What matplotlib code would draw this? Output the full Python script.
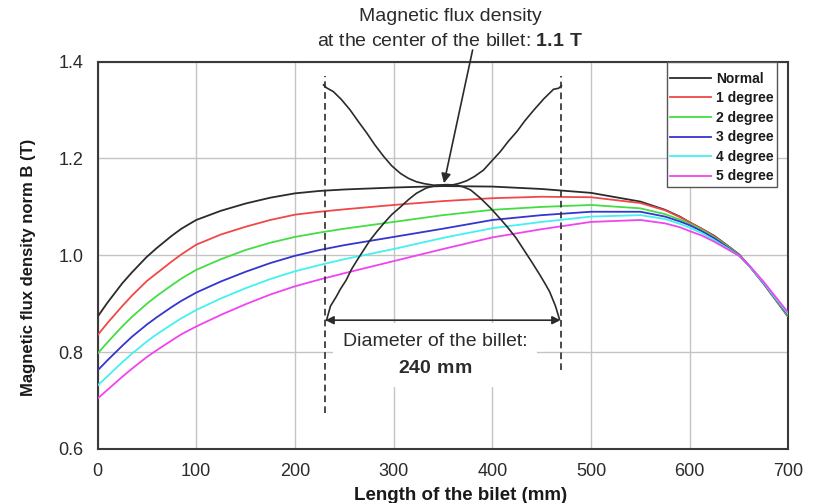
import matplotlib.pyplot as plt
import matplotlib as mpl

mpl.rcParams['font.family'] = ['Liberation Sans', 'DejaVu Sans']
mpl.rcParams['mathtext.fontset'] = 'custom'
mpl.rcParams['mathtext.rm'] = 'Liberation Sans'
mpl.rcParams['mathtext.bf'] = 'Liberation Sans:bold'

# position along the billet (mm)
dist = [0, 10, 25, 35, 50, 60, 75, 85, 100, 125, 150, 175, 200, 225, 250, 300, 350, 400,
        450, 500, 550, 575, 590, 600, 612, 625, 637, 650, 662, 675, 687, 700]

normal = [0.873, 0.902, 0.942, 0.965, 0.997, 1.015, 1.040, 1.055, 1.073, 1.092, 1.107, 1.119,
          1.128, 1.133, 1.136, 1.140, 1.143, 1.142, 1.137, 1.129, 1.111, 1.094, 1.080, 1.068,
          1.055, 1.040, 1.022, 1.002, 0.974, 0.941, 0.908, 0.872]
deg1 = [0.835, 0.860, 0.895, 0.917, 0.947, 0.963, 0.987, 1.002, 1.022, 1.043, 1.059, 1.073,
        1.084, 1.090, 1.095, 1.104, 1.112, 1.118, 1.121, 1.120, 1.108, 1.093, 1.079, 1.068,
        1.055, 1.039, 1.021, 1.001, 0.974, 0.941, 0.908, 0.873]
deg2 = [0.797, 0.820, 0.853, 0.873, 0.900, 0.916, 0.938, 0.952, 0.970, 0.992, 1.011, 1.026,
        1.038, 1.047, 1.055, 1.069, 1.083, 1.094, 1.100, 1.104, 1.097, 1.085, 1.074, 1.065,
        1.053, 1.037, 1.020, 1.001, 0.974, 0.942, 0.909, 0.874]
deg3 = [0.762, 0.783, 0.813, 0.832, 0.857, 0.872, 0.893, 0.906, 0.923, 0.946, 0.966, 0.984,
        0.999, 1.011, 1.021, 1.038, 1.055, 1.073, 1.083, 1.090, 1.090, 1.080, 1.070, 1.062,
        1.050, 1.035, 1.018, 1.000, 0.974, 0.942, 0.910, 0.876]
deg4 = [0.731, 0.750, 0.779, 0.797, 0.822, 0.837, 0.857, 0.870, 0.887, 0.911, 0.932, 0.951,
        0.967, 0.980, 0.992, 1.013, 1.036, 1.056, 1.069, 1.080, 1.083, 1.075, 1.065, 1.057,
        1.046, 1.031, 1.016, 0.999, 0.974, 0.943, 0.911, 0.878]
deg5 = [0.704, 0.722, 0.749, 0.766, 0.790, 0.804, 0.824, 0.837, 0.853, 0.877, 0.899, 0.919,
        0.936, 0.950, 0.963, 0.988, 1.013, 1.037, 1.054, 1.069, 1.073, 1.066, 1.058, 1.050,
        1.041, 1.028, 1.014, 0.999, 0.975, 0.945, 0.914, 0.881]

series = [
    ('Normal', normal, '#2b2b2b'),
    ('1 degree', deg1, '#f04848'),
    ('2 degree', deg2, '#44dd44'),
    ('3 degree', deg3, '#3535d0'),
    ('4 degree', deg4, '#44f0f0'),
    ('5 degree', deg5, '#f044f0'),
]

# sketch of the billet cross-section (flux across the diameter)
upper_x = [229, 232, 239, 247, 256, 264, 273, 281, 290, 298, 307, 315, 323, 331, 340, 351,
           361, 367, 374, 382, 391, 399, 408, 416, 425, 433, 442, 452, 462, 467, 470]
upper_y = [1.352, 1.346, 1.338, 1.322, 1.300, 1.277, 1.252, 1.228, 1.204, 1.185, 1.169, 1.159,
           1.152, 1.148, 1.145, 1.144, 1.146, 1.149, 1.154, 1.163, 1.176, 1.194, 1.214, 1.235,
           1.256, 1.278, 1.300, 1.323, 1.343, 1.345, 1.350]
lower_x = [232, 236, 242, 246, 252, 257, 263, 270, 276, 283, 290, 298, 307, 315, 323, 333,
           344, 354, 364, 371, 378, 388, 398, 406, 415, 424, 432, 440, 448, 453, 458, 464, 468]
lower_y = [0.866, 0.895, 0.915, 0.930, 0.949, 0.970, 0.990, 1.012, 1.031, 1.049, 1.066, 1.084,
           1.100, 1.115, 1.128, 1.139, 1.145, 1.146, 1.145, 1.141, 1.135, 1.118, 1.098, 1.080,
           1.059, 1.036, 1.011, 0.986, 0.960, 0.943, 0.925, 0.895, 0.868]

billet_left, billet_right = 230, 470

fig = plt.figure(figsize=(8.18, 5.03), dpi=100)
ax = fig.add_axes([0.1192, 0.1074, 0.8447, 0.770])

for name, vals, col in series:
    ax.plot(dist, vals, color=col, lw=1.3, label=name, zorder=4,
            solid_joinstyle='round')

ax.plot(upper_x, upper_y, color='#2b2b2b', lw=1.2, zorder=4, solid_joinstyle='round')
ax.plot(lower_x, lower_y, color='#2b2b2b', lw=1.2, zorder=4, solid_joinstyle='round')

ax.plot([billet_left, billet_left], [0.674, 1.37], color='#2b2b2b', lw=1.2,
        linestyle=(0, (4, 2.5)), zorder=5)
ax.plot([billet_right, billet_right], [0.763, 1.37], color='#2b2b2b', lw=1.2,
        linestyle=(0, (4, 2.5)), zorder=5)

# diameter arrow
ax.annotate('', xy=(billet_left + 1, 0.866), xytext=(billet_right - 1, 0.866),
            arrowprops=dict(arrowstyle='<|-|>', color='#2b2b2b', lw=1.2,
                            mutation_scale=12, shrinkA=0, shrinkB=0), zorder=5)
ax.text(342, 0.794, 'Diameter of the billet:\n$\\mathbf{240\\ mm}$',
        ha='center', va='center', fontsize=14, color='#2b2b2b',
        linespacing=1.75, multialignment='center', zorder=3,
        bbox=dict(facecolor='white', edgecolor='none', pad=7))

# centre flux label and arrow
ax.annotate('', xy=(351, 1.149), xytext=(380, 1.424),
            arrowprops=dict(arrowstyle='-|>', color='#2b2b2b', lw=1.2,
                            mutation_scale=14, shrinkA=0, shrinkB=0),
            annotation_clip=False, zorder=5)
ax.text(357, 1.467, 'Magnetic flux density\nat the center of the billet: $\\mathbf{1.1\\ T}$',
        ha='center', va='center', fontsize=14, color='#2b2b2b',
        linespacing=1.65, clip_on=False)

ax.set_xlim(0, 700)
ax.set_ylim(0.6, 1.4)
ax.set_xticks(range(0, 701, 100))
ax.set_yticks([0.6, 0.8, 1.0, 1.2, 1.4])
ax.set_yticklabels(['0.6', '0.8', '1.0', '1.2', '1.4'])
ax.tick_params(length=0, labelsize=13, pad=10, colors='#2b2b2b')
ax.grid(True, color='#c4c4c4', lw=1)
ax.set_axisbelow(True)
for sp in ax.spines.values():
    sp.set_color('#3a3a3a')
    sp.set_linewidth(1.5)

ax.set_xlabel('Length of the bilet (mm)', fontsize=13.5, fontweight='bold', color='#1a1a1a')
ax.set_ylabel('Magnetic flux density norm B (T)', fontsize=12, fontweight='bold', color='#1a1a1a')
ax.xaxis.set_label_coords(0.525, -0.097)
ax.yaxis.set_label_coords(-0.089, 0.468)

leg = ax.legend(loc='upper right', bbox_to_anchor=(0.983, 1.0), borderaxespad=0,
                prop={'weight': 'bold', 'size': 10}, handlelength=2.9, handletextpad=0.35,
                labelspacing=0.4, borderpad=0.25, fancybox=False, framealpha=1,
                title=' ', title_fontsize=1)
leg.get_frame().set_edgecolor('#555555')
leg.get_frame().set_linewidth(1.0)
for t in leg.get_texts():
    t.set_color('#1a1a1a')

fig.savefig('out.png', dpi=100)
